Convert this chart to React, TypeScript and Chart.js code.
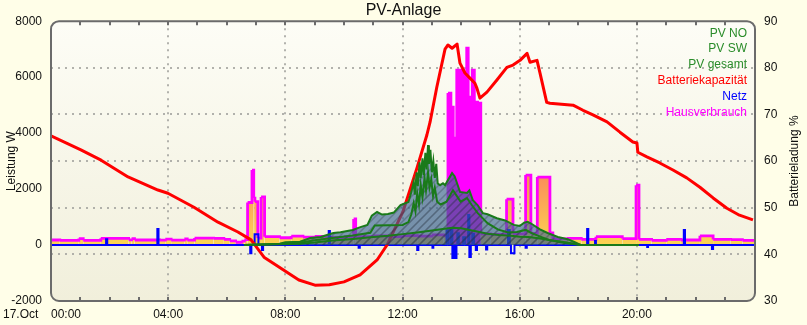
import React, { useEffect, useRef } from 'react';
import { Chart, registerables } from 'chart.js';

Chart.register(...registerables);

type P = [number, number];
const FONT = '"Liberation Sans", Arial, Helvetica, sans-serif';

const chartTitle = 'PV-Anlage';
const leftAxisTitle = 'Leistung W';
const rightAxisTitle = 'Batterieladung %';
const dateLabel = '17.Oct';
const xTickHours = [0, 4, 8, 12, 16, 20, 24.03];
const xTickLabels = ['00:00', '04:00', '08:00', '12:00', '16:00', '20:00', ''];
const leftTicks = [-2000, 0, 2000, 4000, 6000, 8000];
const rightTicks = [30, 40, 50, 60, 70, 80, 90];
const seriesLabels = ['PV NO', 'PV SW', 'PV gesamt', 'Batteriekapazität', 'Netz', 'Hausverbrauch'];

// [hour, W]
const pvNO: P[] = [
  [6.6, 0], [7.8, 25], [8.5, 45], [9.0, 90], [9.6, 160], [10.3, 220], [10.9, 280], [11.5, 330],
  [12.0, 390], [12.5, 450], [13.0, 520], [13.5, 590], [13.7, 620], [14.0, 600], [14.5, 490],
  [14.9, 400], [15.3, 360], [15.7, 330], [16.0, 300], [16.3, 290], [16.7, 230], [17.0, 180],
  [17.5, 110], [18.09, 0], [20.07, 0],
];

const pvSW: P[] = [
  [6.6, 0], [7.8, 40], [8.5, 80], [9.0, 170], [9.6, 250], [10.3, 340], [10.9, 440], [11.05, 700],
  [12.0, 720], [12.2, 820], [12.3, 1100], [12.38, 1500], [12.44, 1200], [12.5, 1850], [12.56, 1450],
  [12.62, 2150], [12.68, 1700], [12.75, 2400], [12.8, 1950], [12.87, 2600], [12.92, 2050],
  [12.98, 2350], [13.04, 1750], [13.1, 2050], [13.18, 1550], [13.3, 1450], [13.5, 1550],
  [13.72, 1960], [13.98, 1550], [14.2, 1680], [14.35, 1450], [14.56, 1150], [14.9, 780],
  [15.25, 560], [15.6, 450], [15.9, 470], [16.2, 540], [16.4, 430], [16.7, 300], [17.0, 180],
  [17.5, 80], [18.09, 0], [20.07, 0],
];

const pvGesamt: P[] = [
  [6.6, 0], [7.8, 50], [8.0, 100], [8.5, 120], [8.85, 250], [9.2, 290], [9.64, 430], [9.88, 460],
  [10.3, 540], [10.56, 640], [10.8, 720], [10.95, 1050], [11.13, 1180], [11.3, 1090], [11.5, 1110],
  [11.7, 1160], [11.93, 1430], [12.2, 1540], [12.3, 1900], [12.38, 2250], [12.42, 1800],
  [12.48, 2600], [12.52, 2100], [12.58, 2960], [12.62, 2400], [12.68, 3100], [12.72, 2500],
  [12.78, 3300], [12.82, 2700], [12.87, 3570], [12.9, 2900], [12.95, 3400], [13.0, 2600],
  [13.05, 3000], [13.1, 2400], [13.15, 2900], [13.2, 2200], [13.28, 2140], [13.38, 2210],
  [13.45, 2140], [13.55, 2320], [13.69, 2570], [13.78, 2450], [13.96, 1900], [14.2, 1860],
  [14.28, 1950], [14.4, 1600], [14.56, 1430], [14.74, 1140], [14.9, 1100], [15.22, 960],
  [15.5, 880], [15.8, 720], [16.0, 680], [16.15, 800], [16.27, 830], [16.4, 760], [16.69, 560],
  [16.95, 430], [17.3, 290], [17.64, 210], [17.9, 90], [18.09, 0], [20.07, 0],
];

// [hour, %]
const batterie: P[] = [
  [0, 65.4], [1.02, 62.4], [1.71, 60.2], [2.63, 56.6], [3.65, 53.8], [3.99, 53.1], [4.88, 50.1],
  [5.7, 46.9], [6.38, 44.8], [6.83, 43.1], [7.27, 39.4], [7.95, 36.6], [8.46, 34.5], [9.01, 33.4],
  [9.5, 33.5], [10.0, 34.1], [10.55, 35.6], [11.13, 38.8], [11.47, 42.0], [12.01, 49.1],
  [12.49, 58.5], [12.83, 65.6], [12.94, 68.4], [13.17, 75.9], [13.45, 84.0], [13.55, 84.9],
  [13.69, 84.2], [13.86, 85.1], [13.96, 81.0], [14.13, 78.9], [14.3, 77.8], [14.47, 76.7],
  [14.54, 75.6], [14.64, 73.5], [14.88, 74.8], [15.22, 77.4], [15.56, 80.1], [15.77, 80.6],
  [16.01, 81.6], [16.25, 83.1], [16.35, 81.2], [16.59, 81.6], [16.69, 78.9], [16.92, 72.6],
  [17.03, 72.4], [17.82, 72.0], [18.16, 70.9], [18.5, 69.9], [18.98, 68.4], [19.42, 66.2],
  [19.86, 64.1], [20.0, 63.9], [20.03, 61.9], [20.34, 60.9], [20.78, 59.6], [21.23, 58.1],
  [21.7, 56.4], [22.15, 54.4], [22.6, 52.1], [23.07, 49.9], [23.5, 48.4], [23.96, 47.4],
];

// [hour, W] (value holds until next point)
const netz: P[] = [
  [0, 0], [1.88, 210], [1.92, 0], [3.63, 570], [3.67, 0], [6.8, -290], [6.84, 0], [6.95, 390],
  [7.08, 0], [7.2, -180], [7.24, 0], [9.48, 500], [9.52, 0], [10.5, -100], [10.54, 0],
  [12.5, -180], [12.54, 0], [13.02, -100], [13.05, 0], [13.5, 530], [13.57, 0], [13.65, 600],
  [13.7, -460], [13.74, 0], [13.8, -460], [13.84, 0], [13.87, 420], [13.92, 0], [14.07, 280],
  [14.14, 0], [14.24, 1070], [14.28, -430], [14.33, 0], [14.38, 400], [14.44, 0], [14.5, -180],
  [14.54, 0], [14.85, -160], [14.89, 0], [15.6, 540], [15.66, 0], [15.7, -290], [15.82, 0],
  [16.2, -100], [16.24, 0], [18.3, 570], [18.34, 0], [18.57, 140], [18.6, 0], [20.35, -70],
  [20.38, 0], [21.6, 540], [21.64, 0], [22.56, -140], [22.6, 0], [24.03, 0],
];

const hausverbrauch: P[] = [
  [0, 180], [0.3, 165], [0.95, 230], [1.1, 170], [1.7, 240], [2.65, 185], [2.75, 230], [2.85, 180],
  [3.7, 175], [3.9, 210], [4.1, 175], [4.55, 215], [4.65, 175], [4.9, 250], [5.55, 235],
  [5.9, 200], [6.1, 150], [6.3, 100], [6.5, 140], [6.6, 190], [6.71, 1520], [6.86, 2680],
  [6.92, 1680], [6.96, 1550], [7.06, 250], [7.17, 1720], [7.29, 300], [7.8, 260], [8.2, 320],
  [8.6, 280], [9.0, 310], [9.5, 270], [10.0, 300], [10.33, 930], [10.4, 300], [11.0, 330],
  [11.5, 300], [12.0, 340], [12.5, 320], [13.0, 360], [13.4, 330], [13.55, 5430], [13.65, 4930],
  [13.73, 3820], [13.85, 6250], [14.07, 6140], [14.19, 7040], [14.24, 5290], [14.38, 6250],
  [14.45, 5110], [14.56, 5070], [14.67, 400], [15.0, 380], [15.55, 1640], [15.77, 400],
  [16.2, 2500], [16.38, 420], [16.6, 2430], [17.03, 430], [17.13, 220], [17.6, 240], [18.1, 200],
  [18.6, 300], [19.5, 230], [19.97, 2140], [20.07, 200], [20.5, 170], [21.0, 200], [21.5, 180],
  [22.15, 330], [22.6, 200], [23.2, 190], [23.6, 170], [24.03, 170],
];

const OUTER_BG = '#fffee8';
const GRID = 'rgba(165,165,160,0.85)';
const TEXT = '#111';
const GREEN = 'rgb(26,122,26)';
const legendColors = ['#2a8c2a', '#2a8c2a', '#2a8c2a', '#ff0000', '#0000ff', '#ff00ff'];

const toXY = (arr: P[]) => arr.map(([x, y]) => ({ x, y }));

function roundRectPath(ctx: CanvasRenderingContext2D, x: number, y: number, w: number, h: number, r: number) {
  ctx.beginPath();
  ctx.moveTo(x + r, y);
  ctx.lineTo(x + w - r, y);
  ctx.arcTo(x + w, y, x + w, y + r, r);
  ctx.lineTo(x + w, y + h - r);
  ctx.arcTo(x + w, y + h, x + w - r, y + h, r);
  ctx.lineTo(x + r, y + h);
  ctx.arcTo(x, y + h, x, y + h - r, r);
  ctx.lineTo(x, y + r);
  ctx.arcTo(x, y, x + r, y, r);
  ctx.closePath();
}

export default function App() {
  const ref = useRef<HTMLCanvasElement>(null);

  useEffect(() => {
    const canvas = ref.current;
    if (!canvas) return;
    const c2d = canvas.getContext('2d')!;

    const hatch = (base: string, stripe: string) => {
      const c = document.createElement('canvas');
      c.width = 8;
      c.height = 8;
      const g = c.getContext('2d')!;
      g.fillStyle = base;
      g.fillRect(0, 0, 8, 8);
      g.strokeStyle = stripe;
      g.lineWidth = 1.5;
      g.beginPath();
      g.moveTo(-2, 10); g.lineTo(10, -2);
      g.moveTo(-2, 2); g.lineTo(2, -2);
      g.moveTo(6, 10); g.lineTo(10, 6);
      g.stroke();
      return c2d.createPattern(c, 'repeat')!;
    };
    const pvFill = hatch('rgba(56,100,148,0.64)', 'rgba(40,50,60,0.30)');
    const pvFillLight = hatch('rgba(50,70,100,0.08)', 'rgba(40,50,60,0.18)');

    const hausGrad = (chart: any) => {
      const area = chart.chartArea;
      const y = chart.scales && chart.scales.y;
      if (!area || !y) return 'rgb(251,212,84)';
      const y0 = y.getPixelForValue(0);
      const y1 = y.getPixelForValue(2500);
      const g = chart.ctx.createLinearGradient(0, y0, 0, y1);
      g.addColorStop(0, 'rgb(251,212,82)');
      g.addColorStop(1, 'rgb(251,140,90)');
      return g;
    };

    const framePlugin = {
      id: 'pvFrame',
      beforeDraw(chart: any) {
        const { ctx, chartArea: a } = chart;
        ctx.save();
        ctx.fillStyle = OUTER_BG;
        ctx.fillRect(0, 0, chart.width, chart.height);
        const g = ctx.createLinearGradient(0, a.top, 0, a.bottom);
        g.addColorStop(0, '#fdfdf6');
        g.addColorStop(1, '#f1efdb');
        ctx.fillStyle = g;
        roundRectPath(ctx, a.left, a.top, a.right - a.left, a.bottom - a.top, 8);
        ctx.fill();
        ctx.restore();
      },
      afterDatasetsDraw(chart: any) {
        const { ctx, chartArea: a } = chart;
        const xs = chart.scales.x;
        ctx.save();
        ctx.strokeStyle = '#6b6b6b';
        ctx.lineWidth = 2;
        ctx.beginPath();
        for (let h = 1; h < 24; h++) {
          const px = Math.round(xs.getPixelForValue(h));
          ctx.moveTo(px, a.top);
          ctx.lineTo(px, a.top + 4);
          ctx.moveTo(px, a.bottom);
          ctx.lineTo(px, a.bottom - 4);
        }
        ctx.stroke();
        roundRectPath(ctx, a.left, a.top, a.right - a.left, a.bottom - a.top, 8);
        ctx.stroke();

        ctx.font = `12px ${FONT}`;
        ctx.textAlign = 'right';
        ctx.textBaseline = 'middle';
        chart.data.datasets.forEach((ds: any, i: number) => {
          ctx.fillStyle = legendColors[i];
          ctx.fillText(ds.label, a.right - 8, a.top + 12 + i * 15.8);
        });

        ctx.fillStyle = TEXT;
        ctx.textAlign = 'left';
        ctx.fillText(dateLabel, 3, a.bottom + 13.2);

        ctx.translate(chart.width - 12, (a.top + a.bottom) / 2);
        ctx.rotate(-Math.PI / 2);
        ctx.textAlign = 'center';
        ctx.fillText(rightAxisTitle, 0, 0);
        ctx.restore();
      },
    };

    const font = { family: FONT, size: 12 };

    const chart = new Chart(c2d, {
      type: 'line',
      data: {
        datasets: [
          { label: seriesLabels[0], data: toXY(pvNO), borderColor: GREEN, borderWidth: 2, backgroundColor: pvFillLight, fill: 'origin', order: 0, yAxisID: 'y' },
          { label: seriesLabels[1], data: toXY(pvSW), borderColor: GREEN, borderWidth: 2, backgroundColor: pvFillLight, fill: 'origin', order: 1, yAxisID: 'y' },
          { label: seriesLabels[2], data: toXY(pvGesamt), borderColor: GREEN, borderWidth: 2, backgroundColor: pvFill, fill: 'origin', order: 2, yAxisID: 'y' },
          { label: seriesLabels[3], data: toXY(batterie), borderColor: '#ff0000', borderWidth: 3, borderJoinStyle: 'round', fill: false, order: 3, yAxisID: 'y1' },
          { label: seriesLabels[4], data: toXY(netz), borderColor: '#0000ff', borderWidth: 2, stepped: 'before', fill: false, order: 4, yAxisID: 'y' },
          {
            label: seriesLabels[5], data: toXY(hausverbrauch), borderColor: '#ff00ff', borderWidth: 2.8,
            stepped: 'before', fill: 'origin', order: 5, yAxisID: 'y',
            backgroundColor: (c: any) => hausGrad(c.chart),
            segment: { backgroundColor: (c: any) => (c.p0.parsed.y >= 3000 ? '#ff00ff' : hausGrad(c.chart)) },
          },
        ] as any,
      },
      options: {
        responsive: false,
        animation: false,
        devicePixelRatio: 1,
        events: [],
        layout: { padding: 0 },
        elements: { point: { radius: 0 }, line: { tension: 0 } },
        plugins: {
          legend: { display: false },
          tooltip: { enabled: false },
          title: {
            display: true, text: chartTitle, color: TEXT,
            font: { family: FONT, size: 16, weight: 'normal' },
            padding: { top: 1, bottom: 1 },
          },
        },
        scales: {
          x: {
            type: 'linear', min: 0, max: 24.03,
            afterBuildTicks: (s: any) => { s.ticks = xTickHours.map((v) => ({ value: v })); },
            afterFit: (s: any) => { s.height = 24; },
            ticks: {
              align: 'inner', padding: 6, maxRotation: 0, autoSkip: false, color: TEXT, font,
              callback: (_v: any, i: number) => xTickLabels[i] ?? '',
            },
            grid: {
              drawTicks: false, lineWidth: 2,
              color: (c: any) => (c.index > 0 && c.index < xTickHours.length - 1 ? GRID : 'transparent'),
            },
            border: { display: false, dash: [2, 5] },
          },
          y: {
            type: 'linear', position: 'left', min: -2000, max: 8000,
            afterBuildTicks: (s: any) => { s.ticks = leftTicks.map((v) => ({ value: v })); },
            afterFit: (s: any) => { s.width = 51; },
            ticks: { padding: 9, color: TEXT, font, callback: (v: any) => String(v) },
            grid: { display: false, drawTicks: false },
            border: { display: false },
            title: { display: true, text: leftAxisTitle, color: TEXT, font, padding: { top: 4, bottom: 4 } },
          },
          y1: {
            type: 'linear', position: 'right', min: 30, max: 90,
            afterBuildTicks: (s: any) => { s.ticks = rightTicks.map((v) => ({ value: v })); },
            afterFit: (s: any) => { s.width = 52; },
            ticks: { padding: 9, color: TEXT, font, callback: (v: any) => String(v) },
            grid: {
              drawTicks: false, lineWidth: 2,
              color: (c: any) => (c.tick && c.tick.value > 30 && c.tick.value < 90 ? GRID : 'transparent'),
            },
            border: { display: false, dash: [2, 5] },
          },
        },
      } as any,
      plugins: [framePlugin],
    });

    return () => chart.destroy();
  }, []);

  return (
    <div style={{ position: 'absolute', left: 0, top: 0, width: 807, height: 325, background: OUTER_BG }}>
      <canvas ref={ref} width={807} height={325} style={{ display: 'block', width: 807, height: 325 }} />
    </div>
  );
}
